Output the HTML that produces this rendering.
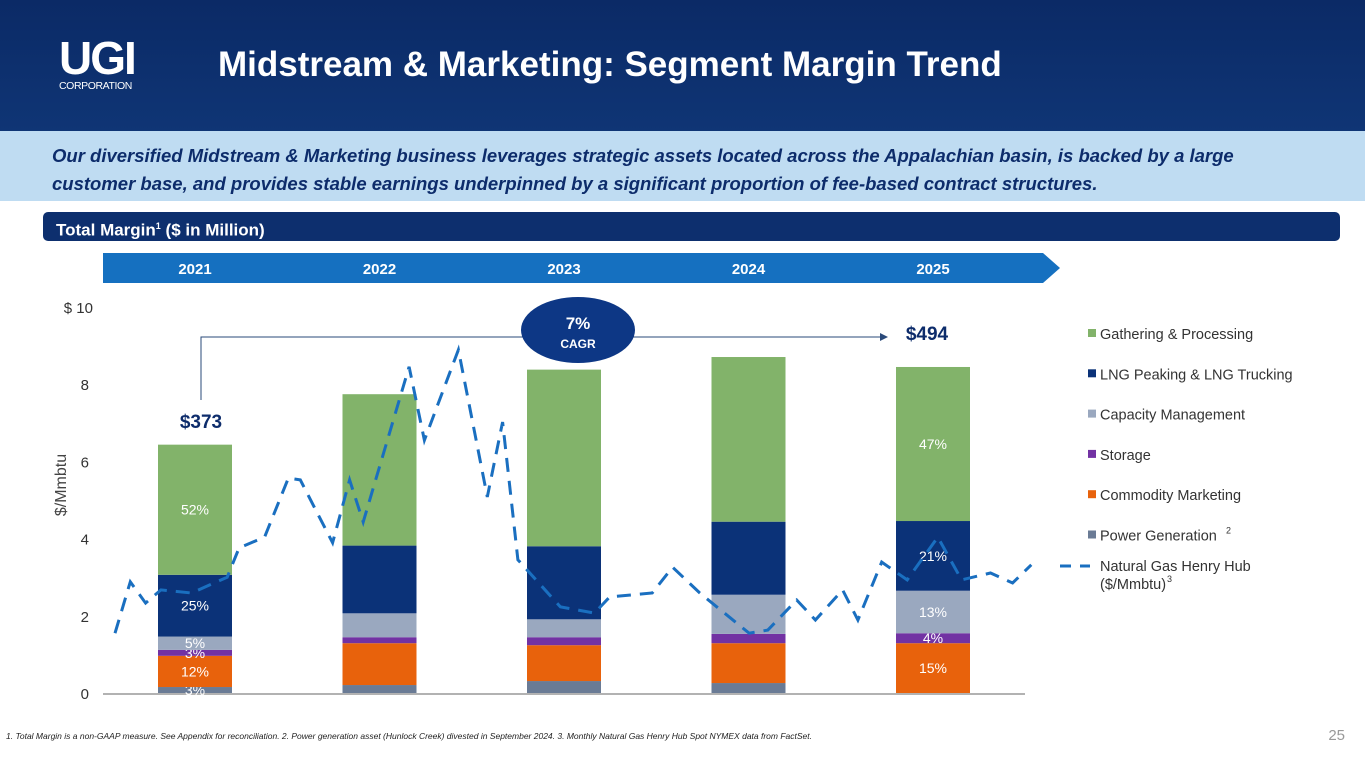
<!DOCTYPE html>
<html><head><meta charset="utf-8"><style>
body{margin:0;width:1365px;height:768px;overflow:hidden;background:#fff;font-family:"Liberation Sans",sans-serif;position:relative}
.abs{position:absolute}
</style></head><body>
<div class="abs" style="left:0;top:0;width:1365px;height:131px;background:linear-gradient(180deg,#0b2a66,#0f3575)"></div>
<div class="abs" style="left:59px;top:36px;color:#fff;width:95px">
 <div style="font-size:46px;font-weight:bold;line-height:44px;letter-spacing:-2px">UGI</div>
 <div style="font-size:10.5px;line-height:12px;letter-spacing:-0.4px">CORPORATION</div>
</div>
<div class="abs" style="left:218px;top:45px;color:#fff;font-size:35px;font-weight:bold;letter-spacing:0px">Midstream &amp; Marketing: Segment Margin Trend</div>
<div class="abs" style="left:0;top:131px;width:1365px;height:70px;background:#bfdcf2"></div>
<div class="abs" style="left:52px;top:142px;width:1250px;color:#0d2c6b;font-size:18.5px;font-weight:bold;font-style:italic;line-height:28px">Our diversified Midstream &amp; Marketing business leverages strategic assets located across the Appalachian basin, is backed by a large customer base, and provides stable earnings underpinned by a significant proportion of fee-based contract structures.</div>
<div class="abs" style="left:43px;top:212px;width:1297px;height:29px;background:#0d2f6e;border-radius:5px;color:#fff;font-size:17px;font-weight:bold;line-height:29px;box-sizing:border-box;padding-left:13px">Total Margin<sup style="font-size:9px">1</sup> ($ in Million)</div>
<svg class="abs" style="left:0;top:0" width="1365" height="768">
 <polygon points="103,253 1043,253 1060,268 1043,283 103,283" fill="#1570c0"/>
 <g id="years" font-size="15" font-weight="bold" fill="#fff" text-anchor="middle"></g>
 <g id="yaxis" font-size="15" fill="#333" text-anchor="end"></g>
 <text transform="translate(66,485) rotate(-90)" font-size="16" fill="#444" text-anchor="middle">$/Mmbtu</text>
 <line x1="103" y1="694" x2="1025" y2="694" stroke="#999" stroke-width="1.5"/>
 <g id="bars"></g>
 <path id="gas" fill="none" stroke="#1a6fc0" stroke-width="3" stroke-dasharray="14,9"/>
 <polyline points="201,400 201,337 880,337" fill="none" stroke="#2a4a7a" stroke-width="1"/>
 <polygon points="880,333 888,337 880,341" fill="#2a4a7a"/>
 <ellipse cx="578" cy="330" rx="57" ry="33" fill="#0d3785"/>
 <text x="578" y="329" font-size="17" font-weight="bold" fill="#fff" text-anchor="middle">7%</text>
 <text x="578" y="348" font-size="12" font-weight="bold" fill="#fff" text-anchor="middle">CAGR</text>
 <text x="201" y="428" font-size="19" font-weight="bold" fill="#0d2c6b" text-anchor="middle">$373</text>
 <text x="927" y="340" font-size="19" font-weight="bold" fill="#0d2c6b" text-anchor="middle">$494</text>
 <g id="legend" font-size="14.5" fill="#333"></g>
 <text x="1345" y="740" font-size="15" fill="#999" text-anchor="end">25</text>
</svg>
<div class="abs" style="left:6px;top:731px;font-size:8.5px;font-style:italic;color:#222">1. Total Margin is a non-GAAP measure. See Appendix for reconciliation. 2. Power generation asset (Hunlock Creek) divested in September 2024. 3. Monthly Natural Gas Henry Hub Spot NYMEX data from FactSet.</div>
<script>
const years=["2021","2022","2023","2024","2025"];
const seriesNames=["Power Generation","Commodity Marketing","Storage","Capacity Management","LNG Peaking & LNG Trucking","Gathering & Processing"];
const powerGen=[9,12,18,15,0];
const commodity=[47,63,54,60,75];
const storage=[9,9,12,14,15];
const capacity=[20,36,27,59,64];
const lng=[93,102,110,110,105];
const gathering=[196,228,266,248,232];
const pctLabels=[["3%","12%","3%","5%","25%","52%"],["","","","","",""],["","","","","",""],["","","","","",""],["","15%","4%","13%","21%","47%"]];
const yTicks=[0,2,4,6,8,10];
const gasMonths=[0,0.9,1.8,2.7,4.5,6.6,7.3,8.8,10.2,10.9,12.8,13.8,14.6,17.3,18.2,20.2,21.9,22.8,23.7,26.2,28.2,29.1,31.6,32.8,34.4,37.3,38.4,40.1,41.2,42.8,43.7,45.1,46.6,48.4,49.8,51.5,52.8,53.9];
const gasPrice=[1.55,2.88,2.33,2.67,2.59,3.0,3.76,4.04,5.57,5.52,3.89,5.52,4.43,8.45,6.55,8.89,5.08,7.02,3.45,2.23,2.07,2.49,2.59,3.26,2.59,1.55,1.63,2.41,1.89,2.67,1.89,3.39,2.93,4.04,2.93,3.11,2.85,3.32];
const colors=["#6a7b95","#e8620c","#7232a3","#9aa8bf","#0b3278","#82b36a"];
const NS="http://www.w3.org/2000/svg";
const y0=693, yTop=307;
const yGas=v=>y0-(v/10)*(y0-yTop);
const yM=v=>y0-v*0.664;
const xBar=i=>195+i*184.5;
const xMonth=m=>115+m*17;
function mk(t,a,p){const e=document.createElementNS(NS,t);for(const k in a)e.setAttribute(k,a[k]);p.appendChild(e);return e;}
const yg=document.getElementById('years');
years.forEach((y,i)=>{const t=mk('text',{x:xBar(i),y:274},yg);t.textContent=y;

});
const ya=document.getElementById('yaxis');
yTicks.forEach(v=>{const t=mk('text',{x:(v==10?93:89),y:yGas(v)+6},ya);t.textContent=(v==10?"$ ":"")+v;

});
const bg=document.getElementById('bars');
const stacks=[powerGen,commodity,storage,capacity,lng,gathering];
years.forEach((y,i)=>{let acc=0;stacks.forEach((s,k)=>{const v=s[i];if(v>0){const r=mk('rect',{x:xBar(i)-37,y:yM(acc+v),width:74,height:yM(acc)-yM(acc+v),fill:colors[k]},bg);

}
const lab=pctLabels[i][k];if(lab){const t=mk('text',{x:xBar(i),y:(yM(acc)+yM(acc+v))/2+5,'font-size':14,fill:'#fff','text-anchor':'middle'},bg);t.textContent=lab;

}
acc+=v;});});
document.getElementById('gas').setAttribute('d',gasMonths.map((m,i)=>(i?'L':'M')+xMonth(m).toFixed(1)+','+yGas(gasPrice[i]).toFixed(1)).join(''));
const lg=document.getElementById('legend');
const legOrder=[5,4,3,2,1,0];
legOrder.forEach((k,j)=>{const y=334+j*40.3;const r=mk('rect',{x:1088,y:y-5,width:8,height:8,fill:colors[k]},lg);


const t=mk('text',{x:1100,y:y+5},lg);t.textContent=seriesNames[k];


if(k==0){const s=mk('text',{x:1226,y:y-2,'font-size':9},lg);s.textContent='2';}});
const ll=mk('line',{x1:1060,y1:566,x2:1090,y2:566,stroke:'#1a6fc0','stroke-width':3,'stroke-dasharray':'11,9'},lg);


const g1=mk('text',{x:1100,y:571},lg);g1.textContent='Natural Gas Henry Hub';


const g2=mk('text',{x:1100,y:589},lg);g2.textContent='($/Mmbtu)';
const g3=mk('text',{x:1167,y:582,'font-size':9},lg);g3.textContent='3';
</script>
</body></html>
